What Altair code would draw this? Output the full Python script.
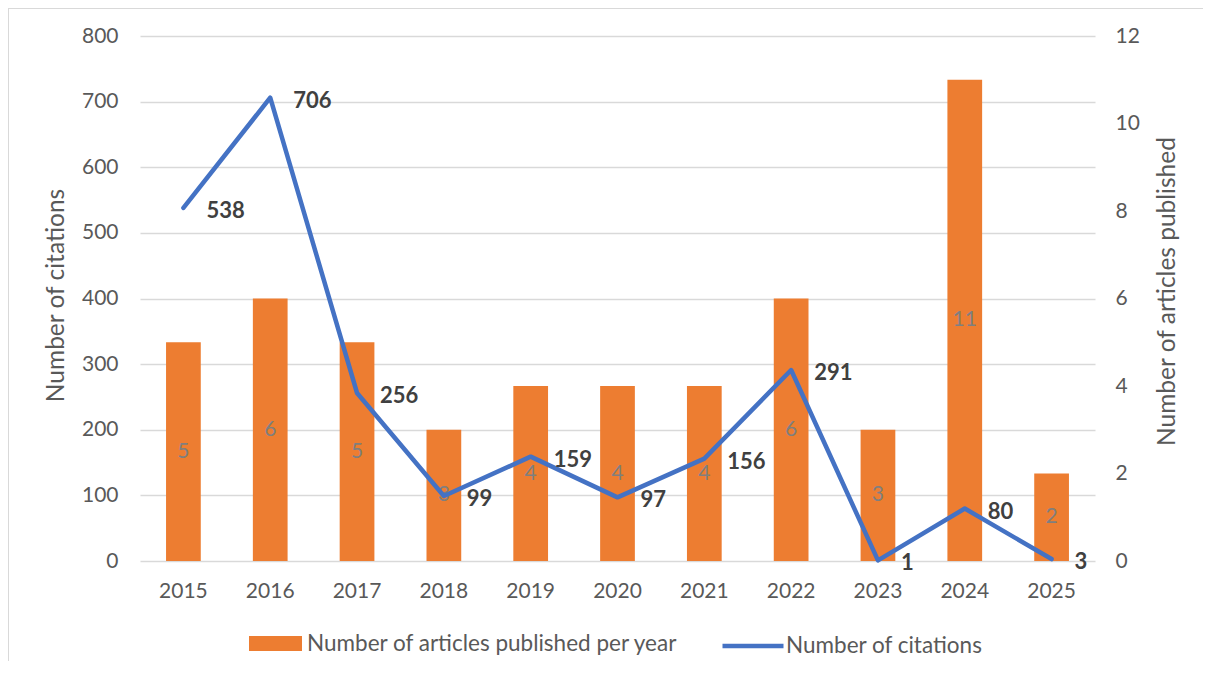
import altair as alt
import pandas as pd

years = ["2015", "2016", "2017", "2018", "2019", "2020", "2021", "2022", "2023", "2024", "2025"]
articles = [5, 6, 5, 3, 4, 4, 4, 6, 3, 11, 2]
citations = [538, 706, 256, 99, 159, 97, 156, 291, 1, 80, 3]
bar_series = "Number of articles published per year"
line_series = "Number of citations"

df = pd.DataFrame({
    "year": years,
    "articles": articles,
    "citations": citations,
    "s1": [bar_series] * len(years),
    "s2": [line_series] * len(years),
})

W, H = 955, 525
FONT = "Lato"
GRAY = "#595959"
TICK = 21
TITLE = 24.5
LEG = 22.5

xenc = alt.X("year:O", sort=years,
             scale=alt.Scale(paddingInner=0.6, paddingOuter=0.3),
             axis=alt.Axis(title=None, labelAngle=0, labelFontSize=TICK, labelColor=GRAY,
                           labelPadding=19, ticks=False, domain=False, grid=False))

bars = alt.Chart(df).mark_bar().encode(
    x=xenc,
    y=alt.Y("articles:Q", scale=alt.Scale(domain=[0, 12]),
            axis=alt.Axis(orient="right", values=[0, 2, 4, 6, 8, 10, 12], grid=False, ticks=False,
                          domain=False, labelPadding=20, labelFontSize=TICK, labelColor=GRAY,
                          labelAlign="left",
                          title="Number of articles published", titleFontSize=TITLE,
                          titleFontWeight="normal", titleColor=GRAY, titleAngle=270,
                          titleX=72, titleY=255, titleAlign="center", titleBaseline="middle")),
    color=alt.Color("s1:N", scale=alt.Scale(domain=[bar_series], range=["#ED7D31"]),
                    legend=alt.Legend(orient="none", legendX=109, legendY=581, title=None,
                                      symbolType="M-1,-0.28H1V0.28H-1Z", symbolSize=2809,
                                      symbolOpacity=1, symbolStrokeWidth=0,
                                      labelFontSize=LEG, labelColor=GRAY, labelLimit=600,
                                      labelOffset=5, padding=0)),
)

bar_text = alt.Chart(df).transform_calculate(mid="datum.articles / 2").mark_text(
    color="#7F7F7F", fontSize=21, baseline="middle", align="center"
).encode(
    x=xenc,
    y=alt.Y("mid:Q", scale=alt.Scale(domain=[0, 12])),
    text="articles:Q",
)

right = alt.layer(bars, bar_text)

line = alt.Chart(df).mark_line(strokeWidth=4.5, strokeCap="round", strokeJoin="round").encode(
    x=xenc,
    y=alt.Y("citations:Q", scale=alt.Scale(domain=[0, 800]),
            axis=alt.Axis(orient="left", values=list(range(0, 801, 100)), grid=True,
                          gridColor="#D9D9D9", gridWidth=1.5, ticks=False, domain=False,
                          labelPadding=22, labelFontSize=TICK, labelColor=GRAY,
                          title="Number of citations", titleFontSize=TITLE,
                          titleFontWeight="normal", titleColor=GRAY, titleAngle=270,
                          titleX=-84, titleY=259, titleAlign="center", titleBaseline="middle")),
    stroke=alt.Stroke("s2:N", scale=alt.Scale(domain=[line_series], range=["#4472C4"]),
                      legend=alt.Legend(orient="none", legendX=580, legendY=577, title=None,
                                        symbolType="stroke", symbolSize=3721,
                                        symbolStrokeWidth=4.5,
                                        labelFontSize=LEG, labelColor=GRAY, labelLimit=600,
                                        labelOffset=0, padding=0)),
)

line_text = alt.Chart(df).mark_text(
    align="left", baseline="middle", dx=23, dy=3, fontSize=22, fontWeight="bold", color="#404040"
).encode(
    x=xenc,
    y=alt.Y("citations:Q", scale=alt.Scale(domain=[0, 800])),
    text="citations:Q",
)

left = alt.layer(line, line_text)

one = pd.DataFrame({"a": [0]})
border_top = alt.Chart(one).mark_rule(color="#D9D9D9", strokeWidth=1).encode(
    x=alt.value(-132), x2=alt.value(1200), y=alt.value(-27.5)
)
border_left = alt.Chart(one).mark_rule(color="#D9D9D9", strokeWidth=1).encode(
    x=alt.value(-131.5), y=alt.value(-28), y2=alt.value(800)
)

chart = alt.layer(border_top, border_left, right, left).resolve_scale(
    y="independent"
).properties(
    width=W, height=H,
    autosize=alt.AutoSizeParams(type="none"),
    padding={"left": 132, "top": 28, "right": 108, "bottom": 100},
).configure(font=FONT).configure_view(stroke=None)

chart.save("out.html", embed_options={"renderer": "svg", "actions": False})
